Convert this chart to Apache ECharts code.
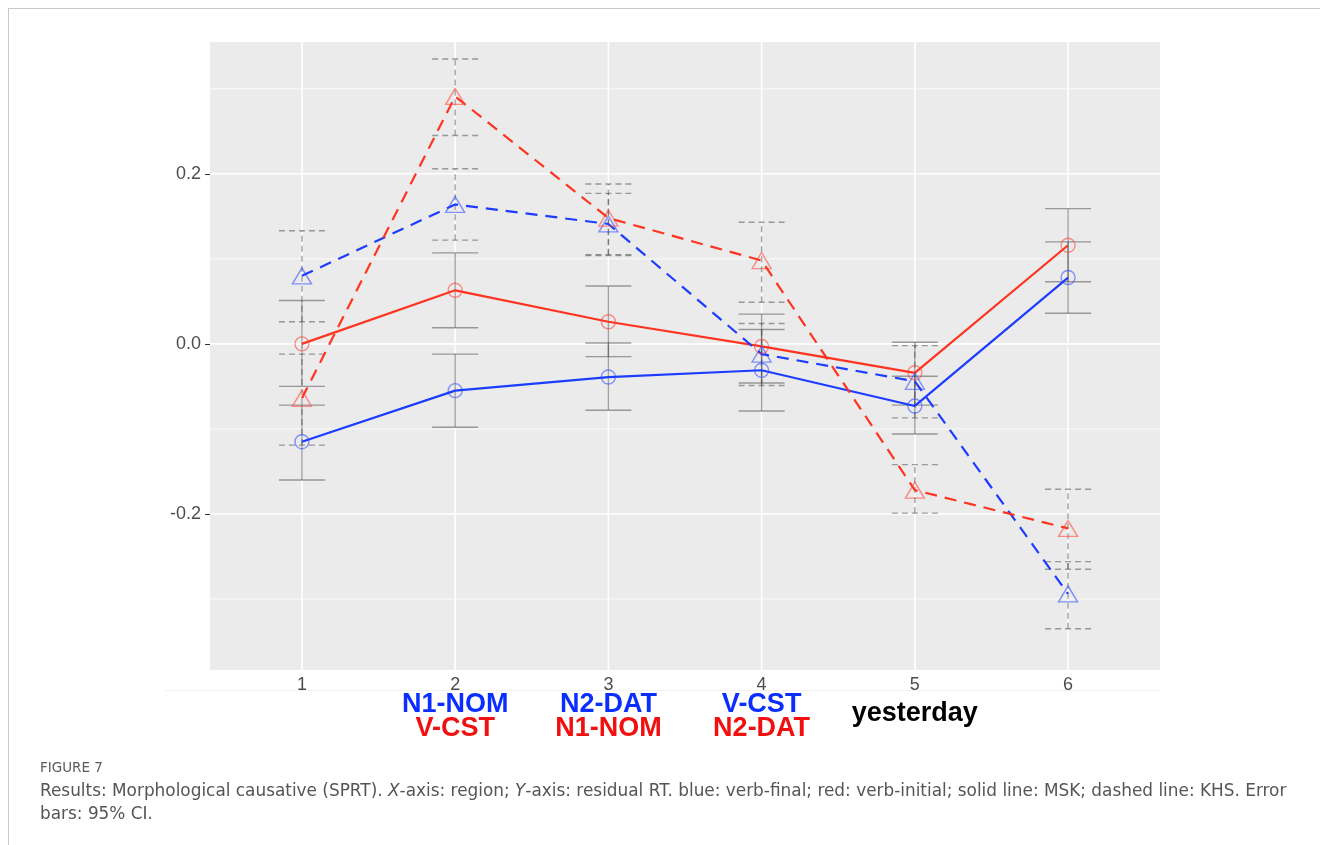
<!DOCTYPE html>
<html>
<head>
<meta charset="utf-8">
<script src="https://cdn.jsdelivr.net/npm/echarts@6/dist/echarts.min.js"></script>
<style>
  html, body { margin: 0; padding: 0; background: #ffffff; }
  #chart { width: 1320px; height: 845px; }
</style>
</head>
<body>
<div id="chart"></div>
<script>
// Regions along the sentence and their tick labels
const regions = [1, 2, 3, 4, 5, 6];
const xTickLabels = ['1', '2', '3', '4', '5', '6'];
const yTickValues = [-0.2, 0.0, 0.2];
const yTickLabels = ['-0.2', '0.0', '0.2'];
const yMinorValues = [-0.3, -0.1, 0.1, 0.3];

// Word annotations under regions 2-5 (verb-final row, verb-initial row)
const wordRegions = [2, 3, 4, 5];
const wordsFinal = ['N1-NOM', 'N2-DAT', 'V-CST', 'yesterday'];
const wordsInitial = ['V-CST', 'N1-NOM', 'N2-DAT', ''];

// MSK (solid): verb-final (blue) and verb-initial (red), means and 95% CI
const mskFinal     = [-0.115, -0.055, -0.039, -0.031, -0.073, 0.078];
const mskFinalLo   = [-0.160, -0.098, -0.078, -0.079, -0.106, 0.036];
const mskFinalHi   = [-0.072, -0.012,  0.001,  0.017, -0.038, 0.120];
const mskInitial   = [ 0.000,  0.063,  0.026, -0.003, -0.034, 0.116];
const mskInitialLo = [-0.050,  0.019, -0.015, -0.046, -0.072, 0.073];
const mskInitialHi = [ 0.051,  0.107,  0.068,  0.035,  0.002, 0.159];

// KHS (dashed): verb-final (blue) and verb-initial (red), means and 95% CI
const khsFinal     = [ 0.080,  0.164,  0.141, -0.012, -0.044, -0.294];
const khsFinalLo   = [ 0.026,  0.122,  0.105, -0.049, -0.087, -0.335];
const khsFinalHi   = [ 0.133,  0.206,  0.177,  0.024, -0.002, -0.256];
const khsInitial   = [-0.064,  0.291,  0.148,  0.098, -0.172, -0.217];
const khsInitialLo = [-0.119,  0.245,  0.104,  0.049, -0.199, -0.265];
const khsInitialHi = [-0.012,  0.335,  0.188,  0.143, -0.142, -0.171];

const BLUE = '#1c3dff';
const RED = '#ff3420';
const BLUE_PT = 'rgba(40,70,255,0.55)';
const RED_PT = 'rgba(255,60,50,0.55)';
const X_MIN = 0.4, X_MAX = 6.6;
const Y_MIN = -0.3835, Y_MAX = 0.355;
const CAP = 0.15;
const AXIS_FONT = '"Liberation Sans", Arial, sans-serif';

const pairs = (ys) => regions.map((x, i) => [x, ys[i]]);
const bars = (lo, hi, dashed) => regions.map((x, i) => [x, lo[i], hi[i], dashed ? 1 : 0]);

// Gridlines: [x, y, kind] kind 0 = vertical major, 1 = horizontal major, 2 = horizontal minor
const gridData = []
  .concat(regions.map(x => [x, 0, 0]))
  .concat(yTickValues.map(y => [1, y, 1]))
  .concat(yMinorValues.map(y => [1, y, 2]));

function renderGrid(params, api) {
  const cs = params.coordSys;
  const kind = api.value(2);
  if (kind === 0) {
    const p = api.coord([api.value(0), 0]);
    return { type: 'line', shape: { x1: p[0], y1: cs.y, x2: p[0], y2: cs.y + cs.height },
             style: { stroke: '#ffffff', lineWidth: 1.6 } };
  }
  const p = api.coord([1, api.value(1)]);
  return { type: 'line', shape: { x1: cs.x, y1: p[1], x2: cs.x + cs.width, y2: p[1] },
           style: { stroke: '#ffffff', lineWidth: kind === 1 ? 1.6 : 0.8 } };
}

function renderBar(params, api) {
  const x = api.value(0);
  const lo = api.coord([x, api.value(1)]);
  const hi = api.coord([x, api.value(2)]);
  const l = api.coord([x - CAP, 0])[0];
  const r = api.coord([x + CAP, 0])[0];
  const dash = api.value(3) ? [6, 4] : null;
  const style = { stroke: 'rgba(70,70,70,0.5)', lineWidth: 1.4, lineDash: dash, fill: null };
  return {
    type: 'group',
    children: [
      { type: 'line', shape: { x1: lo[0], y1: lo[1], x2: hi[0], y2: hi[1] }, style },
      { type: 'line', shape: { x1: l, y1: lo[1], x2: r, y2: lo[1] }, style },
      { type: 'line', shape: { x1: l, y1: hi[1], x2: r, y2: hi[1] }, style }
    ]
  };
}

function meanSeries(name, ys, color, ptColor, dashed, symbol) {
  return {
    name, type: 'line', data: pairs(ys), z: 4,
    symbol, symbolSize: symbol === 'circle' ? 14 : [19, 16],
    showSymbol: true, animation: false,
    lineStyle: { color, width: 2.2, type: dashed ? [12, 8] : 'solid' },
    itemStyle: { color: 'rgba(0,0,0,0)', borderColor: ptColor, borderWidth: 1.4 },
    emphasis: { disabled: true }
  };
}

const chart = echarts.init(document.getElementById('chart'), null, { renderer: 'canvas' });

chart.setOption({
  animation: false,
  backgroundColor: '#ffffff',
  grid: { left: 210, right: 160, top: 42, bottom: 175, show: true,
          backgroundColor: '#ebebeb', borderWidth: 0 },
  xAxis: [
    {
      type: 'value', min: X_MIN, max: X_MAX,
      axisLine: { show: false },
      splitLine: { show: false },
      axisTick: { show: true, length: 5, lineStyle: { color: '#333333', width: 1 }, customValues: regions },
      axisLabel: { customValues: regions, margin: 6, color: '#4d4d4d', fontSize: 18,
                   fontFamily: AXIS_FONT,
                   formatter: (v) => xTickLabels[regions.indexOf(Math.round(v))] }
    },
    {
      type: 'value', min: X_MIN, max: X_MAX, position: 'bottom',
      axisLine: { show: false }, splitLine: { show: false }, axisTick: { show: false },
      axisLabel: {
        customValues: wordRegions, margin: 23, verticalAlign: 'top',
        formatter: (v) => {
          const i = wordRegions.indexOf(Math.round(v));
          if (!wordsInitial[i]) return '{k|' + wordsFinal[i] + '}';
          return '{b|' + wordsFinal[i] + '}\n{r|' + wordsInitial[i] + '}';
        },
        rich: {
          b: { color: '#0a2eff', fontSize: 27, fontWeight: 'bold', fontFamily: AXIS_FONT, lineHeight: 23.5 },
          r: { color: '#f01010', fontSize: 27, fontWeight: 'bold', fontFamily: AXIS_FONT, lineHeight: 23.5 },
          k: { color: '#000000', fontSize: 27, fontWeight: 'bold', fontFamily: AXIS_FONT, lineHeight: 42 }
        }
      }
    }
  ],
  yAxis: {
    type: 'value', min: Y_MIN, max: Y_MAX,
    axisLine: { show: false },
    splitLine: { show: false },
    axisTick: { show: true, length: 5, lineStyle: { color: '#333333', width: 1 }, customValues: yTickValues },
    axisLabel: { customValues: yTickValues, margin: 9, color: '#4d4d4d', fontSize: 18,
                 fontFamily: AXIS_FONT,
                 formatter: (v) => yTickLabels[yTickValues.findIndex(t => Math.abs(t - v) < 1e-6)] }
  },
  series: [
    { type: 'custom', name: 'grid', renderItem: renderGrid, data: gridData, z: 1, silent: true, animation: false },
    { type: 'custom', name: 'ci-msk-final', renderItem: renderBar, data: bars(mskFinalLo, mskFinalHi, false), z: 2, silent: true },
    { type: 'custom', name: 'ci-msk-initial', renderItem: renderBar, data: bars(mskInitialLo, mskInitialHi, false), z: 2, silent: true },
    { type: 'custom', name: 'ci-khs-final', renderItem: renderBar, data: bars(khsFinalLo, khsFinalHi, true), z: 2, silent: true },
    { type: 'custom', name: 'ci-khs-initial', renderItem: renderBar, data: bars(khsInitialLo, khsInitialHi, true), z: 2, silent: true },
    meanSeries('MSK verb-final', mskFinal, BLUE, BLUE_PT, false, 'circle'),
    meanSeries('MSK verb-initial', mskInitial, RED, RED_PT, false, 'circle'),
    meanSeries('KHS verb-final', khsFinal, BLUE, BLUE_PT, true, 'triangle'),
    meanSeries('KHS verb-initial', khsInitial, RED, RED_PT, true, 'triangle')
  ],
  graphic: [
    // page frame
    { type: 'line', shape: { x1: 8, y1: 8.5, x2: 1320, y2: 8.5 }, style: { stroke: '#c8c8c8', lineWidth: 1 }, silent: true },
    { type: 'line', shape: { x1: 8.5, y1: 8, x2: 8.5, y2: 845 }, style: { stroke: '#c8c8c8', lineWidth: 1 }, silent: true },
    { type: 'line', shape: { x1: 165, y1: 690.5, x2: 1160, y2: 690.5 }, style: { stroke: '#f2f2f2', lineWidth: 1 }, silent: true, z: -1 },
    {
      type: 'text', left: 40, top: 761, silent: true,
      style: { text: 'FIGURE 7', fill: '#5a5a5a', font: '13.5px "DejaVu Sans", sans-serif' }
    },
    {
      type: 'text', left: 40, top: 783, silent: true,
      style: {
        text: '{n|Results: Morphological causative (SPRT). }{i|X}{n|-axis: region; }{i|Y}{n|-axis: residual RT. blue: verb-final; red: verb-initial; solid line: MSK; dashed line: KHS. Error}\n{n|bars: 95% CI.}',
        rich: {
          n: { fill: '#555555', fontSize: 16.9, fontFamily: '"DejaVu Sans", sans-serif', lineHeight: 23 },
          i: { fill: '#555555', fontSize: 16.9, fontStyle: 'italic', fontFamily: '"DejaVu Sans", sans-serif', lineHeight: 23 }
        }
      }
    }
  ]
});
</script>
</body>
</html>
